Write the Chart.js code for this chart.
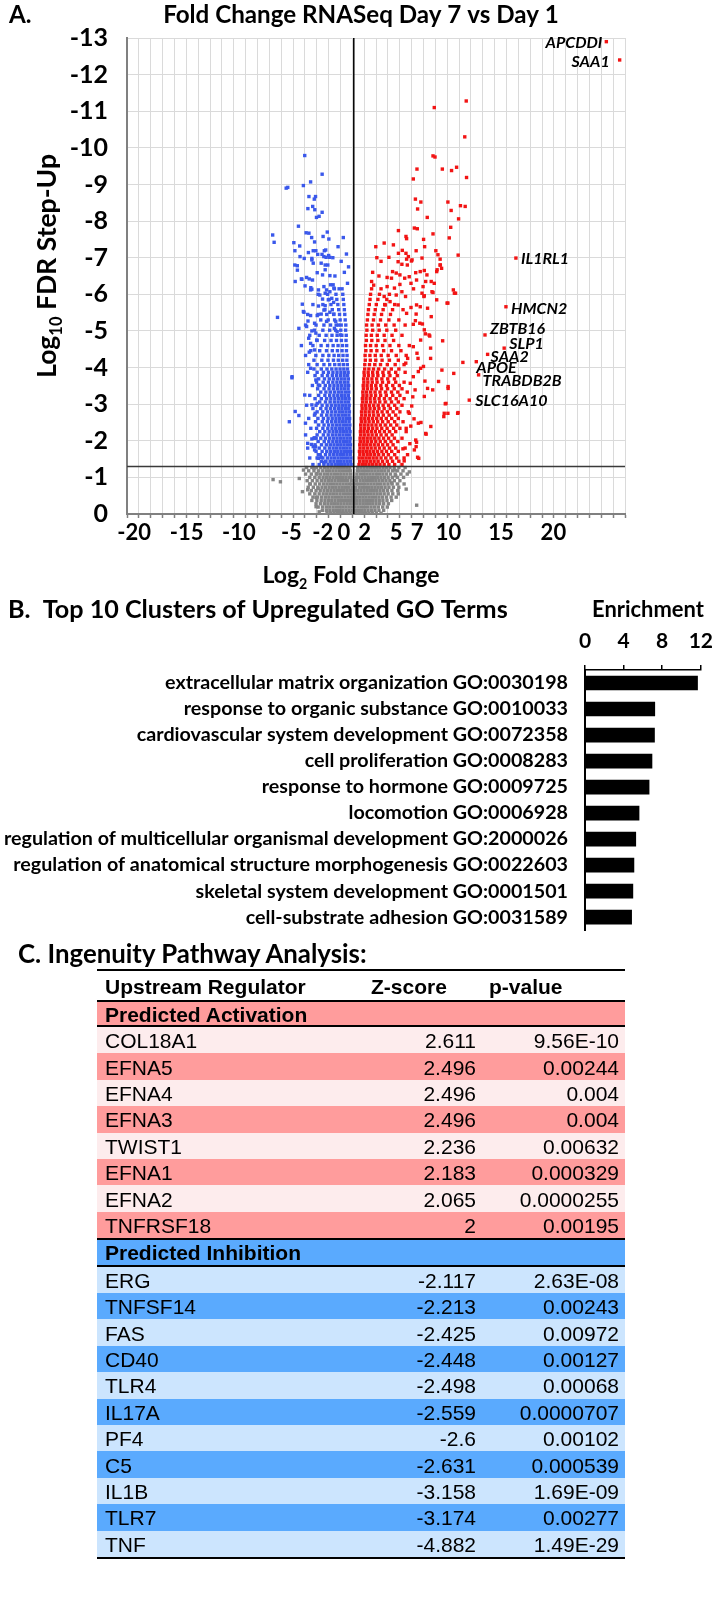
<!DOCTYPE html>
<html><head><meta charset="utf-8">
<script src="https://cdn.jsdelivr.net/npm/chart.js@4.4.1/dist/chart.umd.min.js"></script>
<style>
html,body{margin:0;padding:0;background:#fff;}
#page{position:relative;width:724px;height:1599px;overflow:hidden;background:#fff;}
canvas{position:absolute;left:0;}
.tl{position:absolute;left:97px;width:528px;height:2px;background:#000;}
.row{position:absolute;left:97px;width:528px;font-family:'Liberation Sans',Arial,sans-serif;font-size:21px;color:#000;}
.row span{position:absolute;top:50%;transform:translateY(-50%);white-space:nowrap;line-height:1;}
#titleC{position:absolute;left:18px;top:954px;transform:translateY(-50%);font-family:Lato,sans-serif;font-weight:bold;font-size:22px;white-space:nowrap;line-height:1;color:#000;}
</style></head>
<body><div id="page">
<canvas id="cA" width="724" height="596" style="top:0"></canvas>
<canvas id="cB" width="724" height="363" style="top:596px"></canvas>
<div id="titleC">C. Ingenuity Pathway Analysis:</div>
<div id="tbl"></div>
</div>
<script>
// ---------------- Panel A data (log2 fold change, log10 FDR shown negative) ----------------
const xTickValues = [-20,-15,-10,-5,-2,0,2,5,7,10,15,20];
const xMin = -21.64, xMax = 25.88;
const yTickMin = -13, yTickMax = 0;
const fdrCutoff = -1.3;

// dense up-regulated core: [y, x, x, ...]
const upCoreRows = [
[-1.35,0.5,0.82,1.14,1.46,1.8,2.14,2.5,2.9,3.35,3.9,4.6],
[-1.44,0.56,0.9,1.24,1.58,1.94,2.32,2.74,3.2,3.7,4.3],
[-1.53,0.52,0.85,1.18,1.5,1.85,2.2,2.6,3.05,3.55,4.1,4.8],
[-1.62,0.58,0.93,1.28,1.62,1.98,2.38,2.82,3.3,3.9],
[-1.71,0.54,0.87,1.2,1.54,1.9,2.27,2.68,3.12,3.62,4.25],
[-1.8,0.6,0.95,1.3,1.66,2.04,2.45,2.9,3.42,4.0,4.9],
[-1.89,0.57,0.9,1.24,1.58,1.95,2.34,2.76,3.22,3.75],
[-1.98,0.62,0.97,1.33,1.7,2.1,2.52,3.0,3.55,4.2],
[-2.07,0.6,0.94,1.28,1.63,2.0,2.4,2.84,3.32,3.88,4.6],
[-2.16,0.65,1.0,1.37,1.75,2.15,2.6,3.1,3.66],
[-2.25,0.63,0.97,1.32,1.68,2.06,2.47,2.92,3.42,4.0,5.0],
[-2.34,0.68,1.04,1.41,1.8,2.21,2.67,3.18,3.8,4.4],
[-2.43,0.66,1.0,1.36,1.73,2.12,2.54,3.0,3.52,4.1],
[-2.52,0.72,1.08,1.46,1.86,2.28,2.75,3.28,3.9,4.7],
[-2.61,0.7,1.05,1.41,1.79,2.19,2.62,3.1,3.62,4.25],
[-2.7,0.76,1.12,1.5,1.9,2.34,2.82,3.38,4.0],
[-2.79,0.74,1.09,1.46,1.85,2.26,2.7,3.2,3.75,4.4,5.2],
[-2.88,0.8,1.16,1.55,1.96,2.4,2.9,3.48,4.1],
[-2.97,0.78,1.13,1.5,1.9,2.33,2.8,3.32,3.9,4.6],
[-3.06,0.84,1.2,1.6,2.02,2.48,3.0,3.6,4.25],
[-3.15,0.82,1.18,1.56,1.97,2.42,2.92,3.46,4.05,4.8],
[-3.24,0.88,1.25,1.65,2.08,2.56,3.1,3.72,4.4],
[-3.33,0.86,1.22,1.61,2.03,2.5,3.02,3.6,4.2,5.1],
[-3.42,0.92,1.3,1.7,2.15,2.65,3.22,3.86,4.6],
[-3.51,0.9,1.27,1.67,2.1,2.58,3.12,3.72,4.35],
[-3.6,0.96,1.34,1.76,2.22,2.74,3.32,4.0,4.8],
[-3.69,0.94,1.32,1.73,2.18,2.68,3.24,3.88],
[-3.78,1.0,1.4,1.83,2.3,2.84,3.45,4.15],
[-3.87,0.98,1.37,1.8,2.26,2.78,3.36,4.0,4.9],
[-3.96,1.04,1.44,1.88,2.38,2.94,3.58,4.3],
[-4.08,1.05,1.5,2.0,2.55,3.2,3.95,4.8],
[-4.2,1.1,1.58,2.1,2.7,3.4,4.25],
[-4.33,1.08,1.54,2.05,2.62,3.28,4.05,5.0],
[-4.46,1.15,1.65,2.2,2.85,3.6,4.5],
[-4.6,1.12,1.6,2.14,2.75,3.45,4.3,5.3],
[-4.74,1.2,1.72,2.3,2.98,3.8],
[-4.88,1.18,1.68,2.24,2.9,3.65,4.6],
[-5.02,1.25,1.8,2.42,3.15,4.0],
[-5.16,1.22,1.75,2.35,3.05,3.85,4.9],
[-5.3,1.3,1.88,2.55,3.35,4.3],
[-5.45,1.35,1.95,2.65,3.5],
[-5.58,1.4,2.05,2.8,3.7,4.7],
[-5.72,1.48,2.15,2.95,3.9],
[-5.86,1.55,2.3,3.15],
[-6.0,1.6,2.45,3.4],
[-6.15,1.7,2.6]
];
// scattered up-regulated genes: [x, y]
const upScatter = [
[10.73,-11.28],[7.68,-11.1],[10.59,-10.3],[7.56,-9.78],[7.75,-9.75],[6.03,-9.42],[5.68,-9.15],[8.45,-9.42],[9.33,-9.38],[9.81,-9.47],[10.76,-9.19],
[5.88,-8.6],[6.4,-8.52],[6.09,-8.33],[8.98,-8.52],[9.29,-8.29],[10.18,-8.42],[10.63,-8.4],[7.01,-8.1],[10.0,-8.06],
[9.25,-7.83],[5.78,-7.81],[6.06,-7.79],[4.26,-7.74],[4.98,-7.58],[5.04,-7.52],[7.56,-7.65],[9.11,-7.54],[6.66,-7.5],[3.78,-7.35],[6.76,-7.3],
[4.63,-7.2],[4.98,-7.12],[4.26,-7.12],[5.21,-7.03],[5.95,-7.19],[6.51,-6.99],[7.83,-7.19],[8.03,-7.08],[9.96,-7.07],[3.35,-7.01],
[4.23,-6.89],[4.59,-6.82],[5.11,-6.8],[5.5,-6.91],[3.7,-6.62],[4.05,-6.58],[4.4,-6.53],[3.18,-6.46],[3.6,-6.44],[4.86,-6.44],[5.29,-6.48],
[5.91,-6.59],[5.99,-6.39],[6.34,-6.62],[6.98,-6.53],[7.91,-6.62],[8.26,-6.8],[8.38,-6.71],[7.39,-6.35],[6.86,-6.35],[5.46,-6.3],[4.4,-6.27],
[3.88,-6.17],[4.59,-6.07],[4.05,-5.98],[4.94,-5.94],[5.7,-6.15],[6.51,-6.03],[6.69,-5.94],[7.46,-6.07],[7.91,-5.85],[8.98,-5.76],[9.5,-6.12],
[9.6,-6.03],[3.18,-6.21],[2.9,-5.94],[3.46,-5.8],[4.23,-5.71],[3.0,-5.71],[5.46,-5.64],[5.99,-5.71],[6.34,-5.66],[7.04,-5.62],[7.39,-5.39],
[8.24,-6.96],[8.24,-6.8],[7.95,-6.67],[7.68,-6.3],[9.71,-6.03],[8.9,-5.76],[6.73,-5.96],[7.56,-6.05],[6.61,-6.21],[6.73,-6.65],[5.56,-6.94],[5.04,-6.96],
[7.25,-4.86],[6.73,-5.03],[6.3,-5.21],[6.55,-5.19],[8.48,-4.73],[7.18,-4.89],[10.41,-4.14],[8.41,-3.93],[9.54,-3.84],[6.79,-3.63],[9.0,-3.43],[7.53,-3.39],
[8.59,-2.66],[8.73,-3.01],[9.91,-2.75],[6.41,-2.5],[7.35,-2.39],[6.9,-2.18],[5.91,-2.02],[5.95,-1.84],[5.78,-1.75],[6.2,-1.52],
[6.16,-2.48],[6.86,-2.2],[5.99,-1.96],[6.09,-1.55],[5.29,-2.75],[5.0,-2.34],[7.04,-3.43],[8.8,-3.02],[8.98,-2.75],[8.63,-2.75],[9.95,-2.77],
[8.09,-3.62],[9.0,-3.48],[6.16,-3.89],[5.95,-5.46],[5.88,-5.28],[5.68,-5.18],[5.04,-5.48],[5.85,-3.39],[6.38,-3.98],[5.68,-3.75],[5.39,-3.57],
[6.73,-3.21],[7.33,-4.25],[5.14,-4.25],[6.13,-4.25],[4.96,-4.12],[6.65,-4.03],[7.33,-4.53],[6.03,-4.39],[5.68,-4.57],[6.38,-4.75],[6.83,-4.92],
[5.53,-2.95],[5.44,-2.4],[5.35,-1.92],[5.13,-1.62],[4.81,-1.45],[4.69,-1.78],[5.63,-3.2],[5.75,-2.6],
[1.8,-6.6],[2.2,-7.0],[1.9,-6.25],[2.4,-6.5],[2.1,-7.3],[2.6,-6.9],[1.7,-6.35],[2.9,-7.4]
];
// labelled up-regulated genes
const geneNames = ['APCDDI','SAA1','IL1RL1','HMCN2','ZBTB16','SLP1','SAA2','APOE','TRABDB2B','SLC16A10'];
const geneX = [24.1,25.37,15.47,14.52,12.52,14.35,12.77,11.69,11.91,11.02];
const geneY = [-12.9,-12.4,-6.99,-5.66,-4.89,-4.53,-4.36,-4.16,-3.8,-3.11];

// dense down-regulated core: [y, x, x, ...]
const downCoreRows = [
[-1.35,-0.26,-0.56,-0.86,-1.16,-1.46,-1.77,-2.1,-2.45,-2.85,-3.3,-3.9],
[-1.44,-0.32,-0.63,-0.94,-1.25,-1.57,-1.9,-2.25,-2.65,-3.1],
[-1.53,-0.28,-0.58,-0.88,-1.19,-1.5,-1.82,-2.16,-2.52,-2.95,-3.5,-4.2],
[-1.62,-0.34,-0.65,-0.96,-1.27,-1.59,-1.92,-2.28,-2.7,-3.2],
[-1.71,-0.3,-0.6,-0.9,-1.21,-1.53,-1.86,-2.2,-2.58,-3.02,-3.6],
[-1.8,-0.36,-0.67,-0.98,-1.3,-1.63,-1.97,-2.33,-2.76,-3.3,-4.4],
[-1.89,-0.32,-0.62,-0.93,-1.24,-1.56,-1.89,-2.24,-2.62,-3.08,-3.7],
[-1.98,-0.38,-0.69,-1.0,-1.32,-1.65,-2.0,-2.38,-2.82,-3.4],
[-2.07,-0.34,-0.64,-0.95,-1.27,-1.6,-1.94,-2.3,-2.7,-3.15,-3.8],
[-2.16,-0.4,-0.71,-1.03,-1.36,-1.7,-2.05,-2.44,-2.9,-3.5,-4.6],
[-2.25,-0.36,-0.67,-0.98,-1.3,-1.63,-1.98,-2.35,-2.76,-3.25],
[-2.34,-0.42,-0.73,-1.05,-1.38,-1.72,-2.08,-2.48,-2.95,-3.55,-4.1],
[-2.43,-0.38,-0.69,-1.0,-1.33,-1.67,-2.02,-2.4,-2.84,-3.35],
[-2.52,-0.44,-0.76,-1.08,-1.41,-1.76,-2.12,-2.52,-3.0,-3.65],
[-2.61,-0.4,-0.71,-1.03,-1.36,-1.7,-2.06,-2.45,-2.9,-3.42,-4.3],
[-2.7,-0.46,-0.78,-1.1,-1.44,-1.79,-2.16,-2.58,-3.08,-3.75],
[-2.79,-0.42,-0.74,-1.06,-1.39,-1.74,-2.1,-2.5,-2.96,-3.5],
[-2.88,-0.48,-0.8,-1.13,-1.47,-1.83,-2.21,-2.64,-3.15,-3.9],
[-2.97,-0.44,-0.76,-1.08,-1.42,-1.77,-2.14,-2.55,-3.02,-3.6,-4.5],
[-3.06,-0.5,-0.82,-1.15,-1.5,-1.86,-2.25,-2.7,-3.25],
[-3.15,-0.46,-0.78,-1.11,-1.45,-1.81,-2.19,-2.6,-3.1,-3.7],
[-3.24,-0.52,-0.85,-1.18,-1.53,-1.9,-2.3,-2.76,-3.35,-4.2],
[-3.33,-0.48,-0.8,-1.14,-1.48,-1.85,-2.24,-2.66,-3.15],
[-3.42,-0.54,-0.87,-1.21,-1.57,-1.95,-2.36,-2.84,-3.45],
[-3.51,-0.5,-0.83,-1.17,-1.52,-1.89,-2.28,-2.72,-3.25,-3.95],
[-3.6,-0.56,-0.9,-1.25,-1.61,-2.0,-2.42,-2.92,-3.55],
[-3.69,-0.52,-0.86,-1.2,-1.56,-1.94,-2.34,-2.8,-3.35],
[-3.78,-0.58,-0.92,-1.28,-1.65,-2.05,-2.5,-3.02,-3.7],
[-3.87,-0.54,-0.88,-1.23,-1.6,-1.99,-2.41,-2.9,-3.5,-4.4],
[-3.96,-0.6,-0.95,-1.31,-1.69,-2.1,-2.56,-3.1,-3.8],
[-4.08,-0.62,-1.0,-1.4,-1.82,-2.3,-2.85,-3.5,-4.3],
[-4.2,-0.66,-1.06,-1.48,-1.94,-2.46,-3.05,-3.8],
[-4.33,-0.64,-1.03,-1.44,-1.88,-2.38,-2.95,-3.62,-4.6],
[-4.46,-0.7,-1.12,-1.56,-2.05,-2.6,-3.25,-4.1],
[-4.6,-0.68,-1.08,-1.5,-1.97,-2.5,-3.12,-3.9,-5.0],
[-4.74,-0.74,-1.18,-1.65,-2.17,-2.78,-3.5],
[-4.88,-0.72,-1.14,-1.59,-2.08,-2.64,-3.3,-4.2],
[-5.02,-0.78,-1.24,-1.73,-2.3,-2.95,-3.75],
[-5.16,-0.76,-1.2,-1.68,-2.22,-2.85,-3.6,-4.6],
[-5.3,-0.82,-1.3,-1.83,-2.44,-3.15],
[-5.45,-0.86,-1.36,-1.92,-2.58,-3.4,-4.4],
[-5.58,-0.9,-1.44,-2.05,-2.75],
[-5.72,-0.95,-1.52,-2.18,-2.95,-3.9],
[-5.86,-1.0,-1.62,-2.35],
[-6.0,-1.05,-1.7,-2.5,-3.4],
[-6.15,-1.12,-1.85]
];
// scattered down-regulated genes: [x, y]
const downScatter = [
[-4.68,-9.79],[-3.02,-9.28],[-6.3,-8.92],[-6.45,-8.9],[-4.81,-8.97],[-4.12,-9.07],[-4.28,-8.67],[-3.65,-8.67],[-3.77,-8.6],[-4.38,-8.34],[-3.92,-8.4],
[-3.72,-8.31],[-3.02,-8.24],[-3.56,-8.1],[-3.31,-8.13],[-5.28,-7.86],[-4.55,-7.68],[-4.28,-7.67],[-4.02,-7.55],[-2.53,-7.7],[-2.93,-7.58],[-2.38,-7.51],
[-3.74,-7.43],[-5.72,-7.41],[-5.16,-7.32],[-5.62,-7.19],[-4.33,-7.14],[-3.87,-7.19],[-3.62,-7.19],[-3.44,-7.09],[-2.81,-7.19],[-2.68,-7.21],[-3.03,-7.09],
[-2.86,-7.03],[-2.64,-7.01],[-2.3,-7.01],[-2.4,-7.06],[-5.13,-7.03],[-4.73,-6.98],[-4.0,-6.98],[-7.74,-7.62],[-7.6,-7.42],[-7.28,-5.37],[-5.9,-3.72],
[-6.15,-2.52],[-5.59,-2.8],[-5.24,-2.69],[-4.68,-3.25],[-4.61,-2.48],[-4.4,-1.93],[-4.04,-1.9],[-4.0,-2.05],[-3.74,-2.08],[-3.59,-2.07],[-3.87,-1.84],
[-3.65,-1.84],[-3.37,-1.52],[-3.11,-1.55],[-2.86,-1.4],[-5.59,-6.35],[-4.95,-6.41],[-5.24,-5.07],[-4.91,-5.73],[-4.81,-5.53],[-4.65,-6.23],[-4.1,-6.18],
[-4.0,-6.14],[-5.63,-6.8],[-5.39,-6.78],[-4.12,-3.98],[-3.69,-2.75],[-4.0,-6.94],[-3.87,-6.85],[-3.11,-6.85],[-2.73,-6.8],[-2.48,-6.8],[-5.38,-6.66],
[-3.49,-6.59],[-2.73,-6.67],[-5.0,-6.42],[-4.5,-6.46],[-4.25,-6.42],[-3.94,-6.39],[-2.98,-6.53],[-2.28,-6.51],[-4.12,-6.12],[-3.37,-6.12],[-2.85,-6.21],
[-2.6,-6.12],[-2.22,-6.26],[-1.97,-6.26],[-3.24,-5.98],[-2.73,-6.03],[-2.28,-6.07],[-1.9,-6.17],[-2.98,-5.87],[-2.43,-5.85],[-2.1,-5.89],[-3.37,-5.68],
[-2.73,-5.69],[-1.92,-5.78],[-4.75,-5.51],[-2.85,-5.57],[-2.28,-5.51],[-4.12,-5.42],[-3.49,-5.42],[-3.11,-5.46],[-1.9,-5.46],[-4.37,-5.27],[-3.74,-5.21],
[-2.6,-5.26],[-1.72,-5.26],[-1.47,-5.16],[-4.5,-5.12],[-4.0,-5.0],[-3.62,-4.94],[-1.85,-5.07],[-1.59,-4.98],[-1.26,-4.89],[-4.3,-4.8],[-4.12,-4.66],
[-3.54,-4.75],[-4.25,-4.42],[-3.74,-4.48],[-5.89,-3.75],[-4.0,-2.98],[-3.74,-1.75],[-3.37,-1.62],[-2.73,-1.43],[-3.62,-3.66],[-3.37,-3.52],[-3.49,-3.02],
[-0.6,-6.3],[-0.9,-6.6],[-1.2,-6.9],[-0.7,-7.1],[-1.5,-7.3],[-1.0,-7.55],[-1.8,-6.5],[-1.4,-6.15],[-2.0,-7.0],[-0.5,-6.75]
];

// non-significant genes: dense rows [y, x, x, ...] and scattered [x, y]
const nsRows = [
[-1.27,-4.5,-4.0,-3.55,-3.15,-2.8,-2.48,-2.17,-1.87,-1.57,-1.27,-0.97,-0.67,-0.38,0.38,0.68,0.98,1.28,1.58,1.88,2.18,2.48,2.8,3.12,3.46,3.85,4.3,4.9],
[-1.18,-4.3,-3.8,-3.35,-2.96,-2.62,-2.3,-1.99,-1.69,-1.39,-1.09,-0.79,-0.5,-0.33,0.34,0.52,0.82,1.12,1.42,1.72,2.02,2.33,2.64,2.96,3.3,3.7,4.15,4.7],
[-1.09,-4.6,-4.05,-3.58,-3.18,-2.82,-2.49,-2.17,-1.86,-1.55,-1.24,-0.94,-0.64,-0.3,0.3,0.64,0.94,1.24,1.54,1.84,2.15,2.46,2.78,3.12,3.5,3.95,4.5,5.1],
[-1.0,-4.2,-3.72,-3.3,-2.93,-2.6,-2.28,-1.97,-1.66,-1.36,-1.06,-0.76,-0.46,-0.27,0.27,0.48,0.78,1.08,1.38,1.68,1.98,2.29,2.6,2.93,3.28,3.68,4.15,4.75],
[-0.91,-4.45,-3.95,-3.5,-3.1,-2.75,-2.42,-2.1,-1.79,-1.48,-1.18,-0.88,-0.58,-0.24,0.24,0.6,0.9,1.2,1.5,1.8,2.1,2.41,2.73,3.07,3.44,3.87,4.4],
[-0.82,-4.15,-3.68,-3.26,-2.89,-2.56,-2.24,-1.93,-1.62,-1.32,-1.02,-0.72,-0.42,-0.21,0.21,0.44,0.74,1.04,1.34,1.64,1.94,2.25,2.57,2.9,3.26,3.66,4.15,4.8],
[-0.73,-4.35,-3.86,-3.42,-3.03,-2.68,-2.35,-2.03,-1.72,-1.41,-1.1,-0.8,-0.5,-0.18,0.18,0.52,0.82,1.12,1.42,1.72,2.02,2.33,2.65,2.99,3.36,3.78,4.3],
[-0.64,-4.05,-3.6,-3.2,-2.84,-2.5,-2.18,-1.87,-1.56,-1.26,-0.96,-0.66,-0.37,-0.15,0.15,0.38,0.68,0.98,1.28,1.58,1.88,2.19,2.51,2.85,3.22,3.64,4.2],
[-0.55,-4.2,-3.72,-3.3,-2.92,-2.58,-2.25,-1.93,-1.62,-1.31,-1.0,-0.7,-0.41,-0.12,0.12,0.42,0.72,1.02,1.32,1.62,1.92,2.23,2.55,2.9,3.28,3.72,4.25],
[-0.46,-3.9,-3.45,-3.06,-2.71,-2.38,-2.06,-1.75,-1.44,-1.14,-0.84,-0.55,-0.27,-0.09,0.09,0.28,0.57,0.87,1.17,1.47,1.77,2.08,2.4,2.74,3.12,3.56,4.05],
[-0.37,-4.0,-3.52,-3.11,-2.75,-2.42,-2.1,-1.79,-1.48,-1.18,-0.88,-0.59,-0.3,-0.06,0.06,0.31,0.6,0.9,1.2,1.5,1.8,2.11,2.43,2.78,3.17,3.62],
[-0.28,-3.6,-3.18,-2.81,-2.47,-2.15,-1.84,-1.53,-1.23,-0.93,-0.63,-0.34,-0.05,0.05,0.3,0.6,0.9,1.2,1.5,1.81,2.13,2.47,2.85,3.3],
[-0.19,-3.4,-2.98,-2.62,-2.29,-1.97,-1.66,-1.35,-1.05,-0.75,-0.45,-0.16,0.12,0.42,0.72,1.02,1.33,1.65,1.98,2.34,2.76,3.2],
[-0.1,-3.0,-2.62,-2.28,-1.96,-1.65,-1.35,-1.05,-0.75,-0.45,-0.15,0.15,0.45,0.75,1.05,1.36,1.68,2.02,2.4,2.85],
[-0.02,-2.55,-2.2,-1.88,-1.57,-1.27,-0.97,-0.67,-0.37,-0.07,0.23,0.53,0.83,1.13,1.44,1.77,2.15,2.6]
];
const nsScatter = [
[-7.7,-0.94],[-7.0,-0.88],[-5.2,-0.97],[-4.4,-0.66],[-4.9,-0.61],[-4.2,-0.82],[5.0,-0.68],[6.0,-0.24],[-3.6,-0.2],[-3.3,-0.06],
[3.9,-1.2],[-3.5,-1.1],[-3.6,-0.45],[4.0,-1.05],[-3.8,-1.25],[3.6,-0.85],[-3.4,-0.7],[5.3,-1.15],[-4.8,-1.2]
];

// ---------------- Panel B data ----------------
const goTerms = [
'extracellular matrix organization GO:0030198',
'response to organic substance GO:0010033',
'cardiovascular system development GO:0072358',
'cell proliferation GO:0008283',
'response to hormone GO:0009725',
'locomotion GO:0006928',
'regulation of multicellular organismal development GO:2000026',
'regulation of anatomical structure morphogenesis GO:0022603',
'skeletal system development GO:0001501',
'cell-substrate adhesion GO:0031589'
];
const enrichment = [11.66,7.23,7.2,6.94,6.64,5.6,5.26,5.07,4.96,4.83];
const enrichMax = 12, enrichStep = 4;

// ---------------- Panel C data ----------------
const actRegulators = ['COL18A1','EFNA5','EFNA4','EFNA3','TWIST1','EFNA1','EFNA2','TNFRSF18'];
const actZ = [2.611,2.496,2.496,2.496,2.236,2.183,2.065,2];
const actP = ['9.56E-10','0.00244','0.004','0.004','0.00632','0.000329','0.0000255','0.00195'];
const inhRegulators = ['ERG','TNFSF14','FAS','CD40','TLR4','IL17A','PF4','C5','IL1B','TLR7','TNF'];
const inhZ = [-2.117,-2.213,-2.425,-2.448,-2.498,-2.559,-2.6,-2.631,-3.158,-3.174,-4.882];
const inhP = ['2.63E-08','0.00243','0.00972','0.00127','0.00068','0.0000707','0.00102','0.000539','1.69E-09','0.00277','1.49E-29'];

// ---------------- styles ----------------
const FONT = 'Lato';
const RED = '#f21414', BLUE = 'rgb(58,88,235)', GREY = '#858585';
const geneLabelStyle = [[-4,1.6,'right'],[-10,1.7,'right'],[5,1,'left'],[5,1.6,'left'],[5,-6,'left'],[5,-4,'left'],[3,2.4,'left'],[0,6.6,'left'],[4,5.7,'left'],[6,0.7,'left']];

function rowsToPoints(rows){const out=[];rows.forEach(r=>{for(let i=1;i<r.length;i++)out.push({x:r[i],y:r[0]});});return out;}
function pairsToPoints(p){return p.map(a=>({x:a[0],y:a[1]}));}
function fitFont(ctx, text, weight, target, base){ctx.font=`${weight} ${base}px ${FONT}`;return base*target/ctx.measureText(text).width;}
function partsWidth(ctx, parts, size){let t=0;parts.forEach(p=>{ctx.font=`bold ${p[1]?size*0.62:size}px ${FONT}`;t+=ctx.measureText(p[0]).width;});return t;}
function drawParts(ctx, parts, cx, baseY, size){
  const total = partsWidth(ctx, parts, size); let x = cx - total/2;
  ctx.textAlign='left'; ctx.textBaseline='alphabetic';
  parts.forEach(p=>{const s=p[1]?size*0.62:size; ctx.font=`bold ${s}px ${FONT}`; ctx.fillText(p[0], x, baseY + (p[1]?size*0.24:0)); x += ctx.measureText(p[0]).width;});
}

const upPoints = rowsToPoints(upCoreRows).concat(pairsToPoints(upScatter), geneX.map((x,i)=>({x:x,y:geneY[i]})));
const downPoints = rowsToPoints(downCoreRows).concat(pairsToPoints(downScatter));
const nsPoints = rowsToPoints(nsRows).concat(pairsToPoints(nsScatter));

const annotateA = {
  id:'annotateA',
  afterDraw(chart){
    const ctx = chart.ctx, xs = chart.scales.x, ys = chart.scales.y;
    ctx.save(); ctx.fillStyle='#000';
    const title = 'Fold Change RNASeq Day 7 vs Day 1';
    const ts = fitFont(ctx, title, 'bold', 396, 22);
    ctx.font = `bold ${ts}px ${FONT}`; ctx.textBaseline='middle';
    ctx.textAlign='center'; ctx.fillText(title, 361, 15);
    ctx.textAlign='left'; ctx.fillText('A.', 9, 15);
    ctx.font = `italic bold 16px ${FONT}`; ctx.textBaseline='middle';
    geneNames.forEach((n,i)=>{
      const px = xs.getPixelForValue(geneX[i]), py = ys.getPixelForValue(geneY[i]);
      const st = geneLabelStyle[i]; ctx.textAlign = st[2];
      ctx.fillText(n, px + st[0], py + st[1]);
    });
    const yParts = [['Log',0],['10',1],[' FDR Step-Up',0]];
    const ysz = 22*224/partsWidth(ctx, yParts, 22);
    ctx.save(); ctx.translate(46, 266); ctx.rotate(-Math.PI/2);
    drawParts(ctx, yParts, 0, ysz*0.36, ysz); ctx.restore();
    const xParts = [['Log',0],['2',1],[' Fold Change',0]];
    const xsz = 22*177/partsWidth(ctx, xParts, 22);
    drawParts(ctx, xParts, 351, 575 + xsz*0.36, xsz);
    ctx.restore();
  }
};

const pointStyleOpts = {pointStyle:'rect', pointRadius:2.4, borderWidth:0, xAxisID:'x', yAxisID:'y'};
new Chart(document.getElementById('cA'), {
  type:'scatter',
  data:{datasets:[
    {data:[{x:0,y:yTickMax},{x:0,y:yTickMin}], showLine:true, borderColor:'#000', borderWidth:1.5, pointRadius:0, order:0, xAxisID:'x', yAxisID:'y'},
    {data:[{x:xMin,y:fdrCutoff},{x:xMax,y:fdrCutoff}], showLine:true, borderColor:'#3a3a3a', borderWidth:1.5, pointRadius:0, order:0, xAxisID:'x', yAxisID:'y'},
    Object.assign({data:upPoints, backgroundColor:RED, order:1}, pointStyleOpts),
    Object.assign({data:downPoints, backgroundColor:BLUE, order:1}, pointStyleOpts),
    Object.assign({data:nsPoints, backgroundColor:GREY, order:2}, pointStyleOpts)
  ]},
  options:{
    responsive:false, animation:false, devicePixelRatio:1,
    layout:{padding:{top:38,right:99,left:0,bottom:0}},
    plugins:{legend:{display:false}, tooltip:{enabled:false}},
    elements:{point:{hoverRadius:2.4}},
    scales:{
      x:{type:'linear', position:'bottom', weight:5, min:xMin, max:xMax,
        afterBuildTicks:(s)=>{s.ticks=xTickValues.map(v=>({value:v}));},
        ticks:{autoSkip:false, maxRotation:0, minRotation:0, padding:2, labelOffset:-10, color:'#000',
          font:{family:FONT,size:22,weight:'bold'}, callback:(v)=>String(v)},
        grid:{display:false, drawTicks:false},
        border:{display:false},
        afterFit:(s)=>{s.height=78;}
      },
      xg:{type:'linear', position:'bottom', weight:0, min:0, max:42,
        afterBuildTicks:(s)=>{const t=[];for(let v=0;v<=42;v++)t.push({value:v});s.ticks=t;},
        ticks:{display:false},
        grid:{color:'#dadada', lineWidth:1, tickLength:4, tickColor:'#808080', tickWidth:1.5},
        border:{color:'#808080', width:2},
        afterFit:(s)=>{s.height=4;}
      },
      y:{type:'linear', min:yTickMin, max:yTickMax, reverse:true,
        ticks:{stepSize:1, autoSkip:false, padding:19, color:'#000', font:{family:FONT,size:25,weight:'bold'}},
        grid:{color:'#dadada', lineWidth:1, drawTicks:false},
        border:{color:'#808080', width:2},
        afterFit:(s)=>{s.width=127;}
      }
    }
  },
  plugins:[annotateA]
});

const annotateB = {
  id:'annotateB',
  afterDraw(chart){
    const ctx = chart.ctx; ctx.save(); ctx.fillStyle='#000'; ctx.textBaseline='middle';
    const t = 'B.  Top 10 Clusters of Upregulated GO Terms';
    const s = fitFont(ctx, t, 'bold', 500, 21);
    ctx.font = `bold ${s}px ${FONT}`; ctx.textAlign='left'; ctx.fillText(t, 8, 14);
    const e = 'Enrichment';
    const s2 = fitFont(ctx, e, 'bold', 112, 21);
    ctx.font = `bold ${s2}px ${FONT}`; ctx.textAlign='center'; ctx.fillText(e, 648, 14);
    ctx.restore();
  }
};

new Chart(document.getElementById('cB'), {
  type:'bar',
  data:{labels:goTerms, datasets:[{data:enrichment, backgroundColor:'#000', borderWidth:0, barThickness:14}]},
  options:{
    indexAxis:'y', responsive:false, animation:false, devicePixelRatio:1,
    layout:{padding:{top:0,right:17,left:0,bottom:0}},
    plugins:{legend:{display:false}, tooltip:{enabled:false}},
    scales:{
      x:{position:'top', min:0, max:enrichMax,
        ticks:{stepSize:enrichStep, padding:11, color:'#000', font:{family:FONT,size:21,weight:'bold'}, maxRotation:0},
        grid:{drawOnChartArea:false, drawTicks:true, tickLength:5, color:'#000', lineWidth:1.5},
        border:{color:'#000', width:1.5},
        afterFit:(s)=>{s.height=74;}
      },
      y:{ticks:{padding:17, autoSkip:false, color:'#000', font:{family:FONT,size:19.7,weight:'bold'}},
        grid:{drawOnChartArea:false, drawTicks:false},
        border:{color:'#000', width:2},
        afterFit:(s)=>{s.width=585;}
      }
    }
  },
  plugins:[annotateB]
});

// ---------------- Panel C table ----------------
(function(){
  const mctx = document.createElement('canvas').getContext('2d');
  const tc = document.getElementById('titleC');
  tc.style.fontSize = fitFont(mctx, tc.textContent, 'bold', 351, 22) + 'px';
  const tbl = document.getElementById('tbl');
  function line(top){const d=document.createElement('div');d.className='tl';d.style.top=top+'px';tbl.appendChild(d);}
  function row(top,h,bg,cells,bold){
    const r=document.createElement('div');r.className='row';r.style.top=top+'px';r.style.height=h+'px';r.style.background=bg;
    if(bold)r.style.fontWeight='bold';
    cells.forEach(c=>{const s=document.createElement('span');s.textContent=c.t;if(c.l!=null)s.style.left=c.l+'px';else s.style.right=c.r+'px';r.appendChild(s);});
    tbl.appendChild(r);
  }
  const rh = 26.4;
  line(969);
  row(971,30,'#fff',[{t:'Upstream Regulator',l:8},{t:'Z-score',l:274},{t:'p-value',l:392}],true);
  line(1000);
  row(1002,24,'#ff9c9c',[{t:'Predicted Activation',l:8}],true);
  line(1025);
  const a0 = 1027;
  actRegulators.forEach((n,i)=>row(a0+i*rh,rh,i%2?'#ff9c9c':'#fdeced',[{t:n,l:8},{t:String(actZ[i]),r:149},{t:actP[i],r:6}],false));
  const aEnd = a0 + actRegulators.length*rh;
  line(aEnd);
  row(aEnd+2,rh-2,'#5aaafe',[{t:'Predicted Inhibition',l:8}],true);
  line(aEnd+rh);
  const b0 = aEnd+rh+2;
  inhRegulators.forEach((n,i)=>row(b0+i*rh,rh,i%2?'#5aaafe':'#cce5fe',[{t:n,l:8},{t:String(inhZ[i]),r:149},{t:inhP[i],r:6}],false));
  line(b0 + inhRegulators.length*rh);
})();
</script>
</body></html>
